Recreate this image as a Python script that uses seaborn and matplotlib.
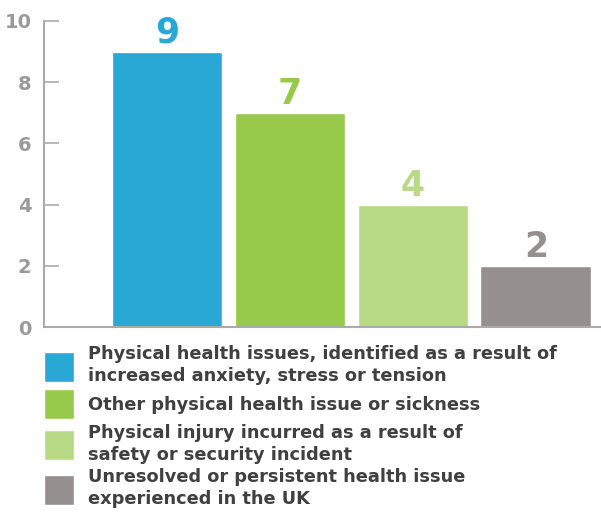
import matplotlib
matplotlib.use("Agg")
import matplotlib.pyplot as plt
import seaborn as sns
import pandas as pd

# Chart data
categories = [
    "Physical health issues, identified as a result of\nincreased anxiety, stress or tension",
    "Other physical health issue or sickness",
    "Physical injury incurred as a result of\nsafety or security incident",
    "Unresolved or persistent health issue\nexperienced in the UK",
]
values = [9, 7, 4, 2]
colors = ["#29a8d6", "#97c94b", "#b8da86", "#958f90"]
y_ticks = [0, 2, 4, 6, 8, 10]

df = pd.DataFrame({"category": categories, "value": values})

sns.set_style("white")
plt.rcParams["font.family"] = ["DejaVu Sans"]

fig = plt.figure(figsize=(6.01, 5.12), dpi=100)
ax = fig.add_axes([0.073, 0.361, 0.925, 0.598])

sns.barplot(data=df, x="category", y="value", hue="category",
            palette=colors, width=0.9, saturation=1, legend=True, ax=ax)

# value labels above bars, same colour as bar
for cont, col in zip(ax.containers, colors):
    ax.bar_label(cont, padding=1.5, color=col, fontsize=25, fontweight="bold")

ax.set_xlim(-1.0, 3.52)
ax.set_ylim(0, 10)
ax.set_yticks(y_ticks)
ax.set_xticks([])
ax.set_xlabel("")
ax.set_ylabel("")
ax.tick_params(axis="y", left=True, direction="in", length=11, width=1.2,
               color="#aaaaaa", labelcolor="#9a9a9a", labelsize=14, pad=9)
for lbl in ax.get_yticklabels():
    lbl.set_fontweight("bold")

sns.despine(ax=ax)
for side in ["left", "bottom"]:
    ax.spines[side].set_color("#aaaaaa")
    ax.spines[side].set_linewidth(1.5)

# legend below the plot
handles, labels = ax.get_legend_handles_labels()
ax.get_legend().remove()
leg = fig.legend(handles, labels, loc="upper left",
                 bbox_to_anchor=(44 / 601, 1 - 345 / 512),
                 frameon=False, handlelength=1.69, handleheight=2.22,
                 handletextpad=0.8, labelspacing=0.24, borderpad=0,
                 borderaxespad=0, labelcolor="#404040",
                 prop={"weight": "bold", "size": 12.8})
for t in leg.get_texts():
    t.set_linespacing(1.3)

fig.savefig("out.png", dpi=100)
